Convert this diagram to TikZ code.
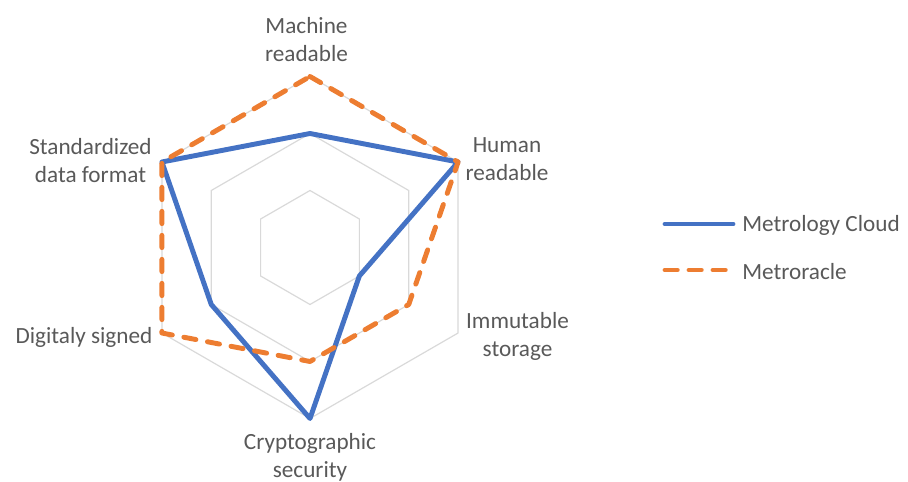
\documentclass[tikz,border=0pt]{standalone}
\usepackage{fontspec}
\setmainfont{Carlito}
\usetikzlibrary{calc}
\definecolor{gridgray}{HTML}{D9D9D9}
\definecolor{serblue}{HTML}{4472C4}
\definecolor{serorange}{HTML}{ED7D31}
\definecolor{txtgray}{HTML}{595959}
\begin{document}
\begin{tikzpicture}[x=0.75pt,y=0.75pt,
 gridline/.style={draw=gridgray,line width=0.9pt,line join=miter},
 cloudline/.style={draw=serblue,line width=3.7pt,line join=round,line cap=round},
 oracleline/.style={draw=serorange,line width=3.7pt,line join=round,line cap=round,dash pattern=on 9.2pt off 8.8pt},
 lbl/.style={text=txtgray,font=\fontsize{17.4}{20.8}\selectfont,align=center,inner sep=0pt},
 leg/.style={text=txtgray,font=\fontsize{17.4}{20.8}\selectfont,anchor=west,inner sep=0pt}]
\useasboundingbox (0,0) rectangle (908,482);
\coordinate (c) at (310,234.5);
% grid
\foreach \r in {57,114,171}{
  \draw[gridline] ($(c)+(90:\r)$) -- ($(c)+(30:\r)$) -- ($(c)+(-30:\r)$) -- ($(c)+(-90:\r)$) -- ($(c)+(-150:\r)$) -- ($(c)+(150:\r)$) -- cycle;
}
% Metrology Cloud
\coordinate (b1) at ($(c)+(90:114)$);
\coordinate (b2) at ($(c)+(30:171)$);
\coordinate (b3) at ($(c)+(-30:57)$);
\coordinate (b4) at ($(c)+(-90:171)$);
\coordinate (b5) at ($(c)+(-150:114)$);
\coordinate (b6) at ($(c)+(150:171)$);
% Metroracle
\coordinate (o1) at ($(c)+(90:171)$);
\coordinate (o2) at ($(c)+(30:171)$);
\coordinate (o3) at ($(c)+(-30:114)$);
\coordinate (o4) at ($(c)+(-90:114)$);
\coordinate (o5) at ($(c)+(-150:171)$);
\coordinate (o6) at ($(c)+(150:171)$);
\draw[cloudline] (b1) -- (b2) -- (b3) -- (b4) -- (b5) -- (b6) -- cycle;
\draw[oracleline] (o1) -- (o2) -- (o3) -- (o4) -- (o5) -- (o6) -- cycle;
% axis labels
\node[lbl] (lm) at (306.5,442.5) {Machine\\readable};
\node[lbl] (lh) at (507,322.5) {Human\\readable};
\node[lbl] (li) at (517.5,145.5) {Immutable\\storage};
\node[lbl] (lc) at (310,24.8) {Cryptographic\\security};
\node[lbl] (ld) at (84,144.3) {Digitaly signed};
\node[lbl] (ls) at (90.5,321.8) {Standardized\\data format};
% legend
\coordinate (k1a) at (665,258);
\coordinate (k1b) at (733,258);
\draw[cloudline] (k1a) -- (k1b);
\node[leg] (k1t) at (742,256.5) {Metrology Cloud};
\coordinate (k2a) at (665,212);
\coordinate (k2b) at (727,212);
\draw[oracleline] (k2a) -- (k2b);
\node[leg] (k2t) at (742,210.5) {Metroracle};
\end{tikzpicture}
\end{document}
